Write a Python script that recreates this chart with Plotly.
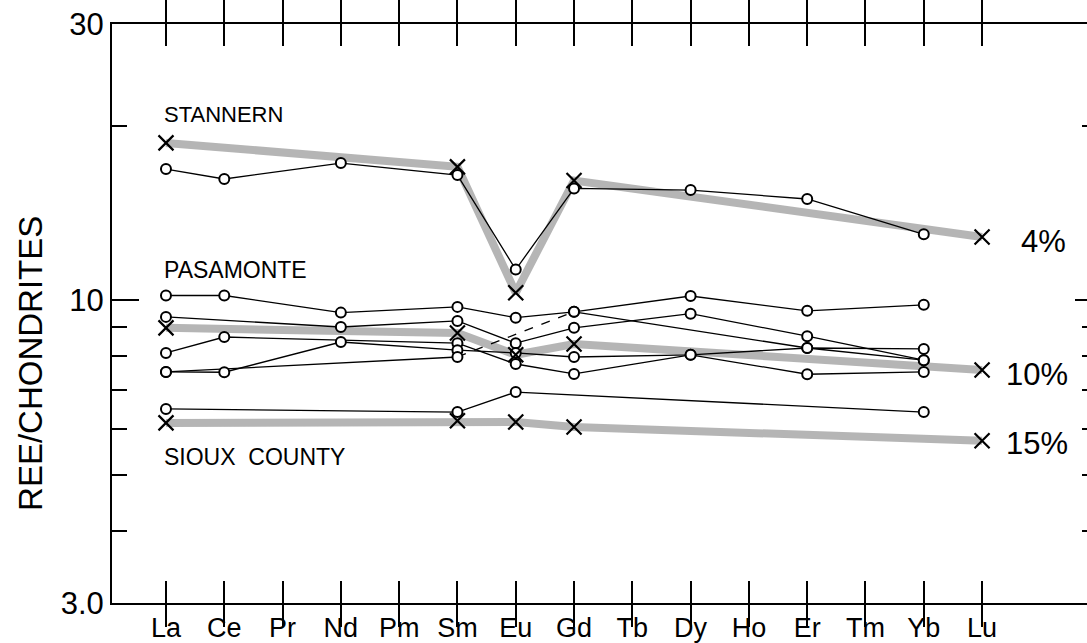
import math
import plotly.graph_objects as go

# ---------------- data ----------------
elements = ["La", "Ce", "Pr", "Nd", "Pm", "Sm", "Eu", "Gd", "Tb", "Dy", "Ho", "Er", "Tm", "Yb", "Lu"]
N = None

# model curves (grey bands with x markers)
stannern_model = [18.7, N, N, N, N, 17.0, 10.3, 16.1, N, N, N, N, N, N, 12.86]   # 4 %
pasamonte_model = [8.96, N, N, N, N, 8.78, 8.05, 8.40, N, N, N, N, N, N, 7.58]   # 10 %
sioux_model = [6.14, N, N, N, N, 6.19, 6.16, 6.04, N, N, N, N, N, N, 5.72]       # 15 %

# observed samples (open circles)
stannern_obs = [16.85, 16.2, N, 17.26, N, 16.45, 11.3, 15.6, N, 15.5, N, 14.96, N, 13.0, N]
sioux_obs = [6.49, N, N, N, N, 6.41, 6.94, N, N, N, N, N, N, 6.41, N]
pasamonte_1 = [10.19, 10.19, N, 9.52, N, 9.74, 9.33, 9.55, N, 10.17, N, 9.59, N, 9.82, N]
pasamonte_2 = [9.36, N, N, 8.99, N, 9.21, 8.43, 8.96, N, 9.48, N, 8.67, N, 7.88, N]
pasamonte_3 = [8.11, 8.64, N, N, N, 8.43, 7.76, 7.46, N, 8.05, N, 7.45, N, 7.52, N]
pasamonte_4 = [7.52, 7.51, N, 8.47, N, 8.20, 8.11, 7.98, N, 8.05, N, 8.27, N, 8.24, N]
pasamonte_5 = [7.52, N, N, N, N, 7.98, N, 9.55, N, N, N, 8.27, N, 7.88, N]
pasamonte_5_dashed_span = ("Sm", "Gd")   # interpolated across the Eu anomaly

model_labels = ["4%", "10%", "15%"]
group_labels = ["STANNERN", "PASAMONTE", "SIOUX  COUNTY"]
y_ticks = [3, 10, 30]
y_ticktext = ["3.0", "10", "30"]
y_minor = [4, 5, 6, 7, 8, 9, 20]
y_range = [math.log10(3) - 1e-4, math.log10(30) + 1e-4]

FONT = "Liberation Sans, Arial, sans-serif"
xs = list(range(len(elements)))


def pts(vals, lo=None, hi=None):
    i0 = 0 if lo is None else elements.index(lo)
    i1 = len(elements) - 1 if hi is None else elements.index(hi)
    px, py = [], []
    for i in range(i0, i1 + 1):
        if vals[i] is not None:
            px.append(xs[i])
            py.append(vals[i])
    return px, py


fig = go.Figure()

# grey bands for models
for m in [stannern_model, pasamonte_model, sioux_model]:
    px, py = pts(m)
    fig.add_trace(go.Scatter(x=px, y=py, mode="lines",
                             line=dict(color="rgba(150,150,150,0.7)", width=8),
                             hoverinfo="skip", showlegend=False))

# observed sample lines
obs_series = [stannern_obs, sioux_obs, pasamonte_1, pasamonte_2, pasamonte_3, pasamonte_4]
for s in obs_series:
    px, py = pts(s)
    fig.add_trace(go.Scatter(x=px, y=py, mode="lines",
                             line=dict(color="black", width=1.3),
                             hoverinfo="skip", showlegend=False))

# pasamonte 5 : solid / dashed / solid
lo, hi = pasamonte_5_dashed_span
for (a, b, dash) in [(None, lo, "solid"), (lo, hi, "dash"), (hi, None, "solid")]:
    px, py = pts(pasamonte_5, a, b)
    fig.add_trace(go.Scatter(x=px, y=py, mode="lines",
                             line=dict(color="black", width=1.3, dash=dash),
                             hoverinfo="skip", showlegend=False))

# circles
for s in obs_series + [pasamonte_5]:
    px, py = pts(s)
    fig.add_trace(go.Scatter(x=px, y=py, mode="markers",
                             marker=dict(symbol="circle", size=10, color="white",
                                         line=dict(color="black", width=2)),
                             hoverinfo="skip", showlegend=False))

# x markers for models (drawn against the right-hand twin axis, same scale)
for m in [stannern_model, pasamonte_model, sioux_model]:
    px, py = pts(m)
    fig.add_trace(go.Scatter(x=px, y=py, mode="markers", yaxis="y2",
                             marker=dict(symbol="x-thin", size=15,
                                         line=dict(color="black", width=2.2)),
                             hoverinfo="skip", showlegend=False))

# text labels
for txt, xp, yp, fs in [(group_labels[0], 0.051, 0.843, 22), (group_labels[1], 0.051, 0.575, 23),
                        (group_labels[2], 0.051, 0.252, 23)]:
    fig.add_annotation(text=txt, x=xp, y=yp, xref="paper", yref="paper",
                       xanchor="left", yanchor="middle", showarrow=False,
                       font=dict(family=FONT, size=fs, color="black"))
for txt, xp, yp in [(model_labels[0], 0.930, 0.625), (model_labels[1], 0.915, 0.395),
                    (model_labels[2], 0.915, 0.276)]:
    fig.add_annotation(text=txt, x=xp, y=yp, xref="paper", yref="paper",
                       xanchor="left", yanchor="middle", showarrow=False,
                       font=dict(family=FONT, size=31, color="black"))

fig.add_annotation(text="REE/CHONDRITES", x=-0.083, y=0.413, xref="paper", yref="paper",
                   textangle=-90, showarrow=False, xanchor="center", yanchor="middle",
                   font=dict(family=FONT, size=33, color="black"))

fig.update_layout(
    width=1087, height=643,
    margin=dict(l=112, r=0, t=24, b=40),
    paper_bgcolor="white", plot_bgcolor="white",
    showlegend=False,
    font=dict(family=FONT, color="black"),
    xaxis=dict(range=[-0.926, 15.8], tickmode="array", tickvals=xs, ticktext=elements,
               ticks="inside", ticklen=22, tickwidth=1.5, tickcolor="black",
               showline=True, linecolor="black", linewidth=2, mirror="allticks",
               showgrid=False, zeroline=False, tickfont=dict(size=27, family=FONT)),
    yaxis=dict(type="log", range=y_range, tickmode="array",
               tickvals=y_ticks, ticktext=y_ticktext,
               ticks="inside", ticklen=27, tickwidth=1.5, tickcolor="black",
               showline=True, linecolor="black", linewidth=2, mirror=False,
               showgrid=False, zeroline=False, tickfont=dict(size=31, family=FONT),
               minor=dict(tickmode="array", tickvals=y_minor, ticks="inside",
                          ticklen=15, tickwidth=1.5, tickcolor="black", showgrid=False)),
    yaxis2=dict(type="log", range=y_range, overlaying="y", side="right",
                tickmode="array", tickvals=[10], ticks="inside", ticklen=12,
                tickwidth=1.5, tickcolor="black", showticklabels=False,
                showline=False, showgrid=False, zeroline=False,
                minor=dict(tickmode="array", tickvals=y_minor, ticks="inside",
                           ticklen=5, tickwidth=1.5, tickcolor="black", showgrid=False)),
)

fig.write_html("out.html", config={"displayModeBar": False},
               post_script="document.body.style.margin='0';")
